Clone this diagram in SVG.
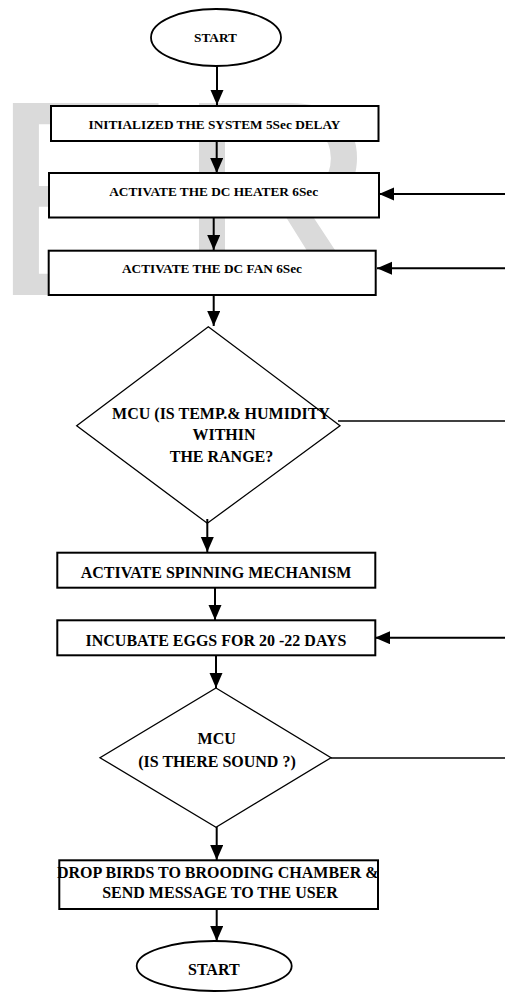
<svg xmlns="http://www.w3.org/2000/svg" width="505" height="992" viewBox="0 0 505 992">
<style>
.box{fill:#fff;stroke:#000;stroke-width:2}
.dia{fill:none;stroke:#000;stroke-width:1.3}
.t{font-family:"Liberation Serif","Times New Roman",serif;font-weight:bold;fill:#000;text-anchor:middle}
.s{font-size:13.3px}
.l{font-size:16px}
.c{stroke:#000;stroke-width:2;fill:none}
.thin{stroke:#000;stroke-width:1.3;fill:none}
</style>
<defs>
<marker id="ah" markerUnits="userSpaceOnUse" markerWidth="16" markerHeight="14" refX="15" refY="6.5" orient="auto">
<path d="M0,0 L15,6.5 L0,13 z" fill="#000"/>
</marker>
</defs>
<rect width="505" height="992" fill="#fff"/>
<text x="-10" y="295" font-family="Liberation Sans,Arial,sans-serif" font-size="279" fill="#dadada">ER</text>
<g id="start">
<ellipse cx="216" cy="37.5" rx="65" ry="28.5" fill="#fff" stroke="#000" stroke-width="1.8"/>
<text class="t s" x="215.5" y="42">START</text>
</g>
<g id="init">
<rect class="box" x="51" y="106" width="327.5" height="35"/>
<text class="t s" x="214.5" y="129">INITIALIZED THE SYSTEM 5Sec DELAY</text>
</g>
<g id="heater">
<rect class="box" x="49" y="173" width="330" height="44.5"/>
<text class="t s" x="213.7" y="196">ACTIVATE THE DC HEATER 6Sec</text>
</g>
<g id="fan">
<rect class="box" x="48.7" y="250.7" width="327" height="44.3"/>
<text class="t s" x="212" y="272.7">ACTIVATE THE DC FAN 6Sec</text>
</g>
<g id="check1">
<polygon class="dia" points="208.3,326.7 340,425.7 207.3,523.3 76.7,425.7"/>
<text class="t l" x="221" y="419">MCU (IS TEMP.&amp; HUMIDITY</text>
<text class="t l" x="224" y="440">WITHIN</text>
<text class="t l" x="221.5" y="461.7">THE RANGE?</text>
</g>
<g id="spin">
<rect class="box" x="57.3" y="552.7" width="318" height="35"/>
<text class="t l" x="216" y="578">ACTIVATE SPINNING MECHANISM</text>
</g>
<g id="incubate">
<rect class="box" x="57.3" y="620.3" width="318" height="35"/>
<text class="t l" x="216" y="646">INCUBATE EGGS FOR 20 -22 DAYS</text>
</g>
<g id="check2">
<polygon class="dia" points="216,688 331,757.7 216,827.3 100,757.7"/>
<text class="t l" x="216.7" y="744.3">MCU</text>
<text class="t l" x="217" y="766.7">(IS THERE SOUND ?)</text>
</g>
<g id="drop">
<rect class="box" x="59.3" y="860.3" width="318.7" height="48.7"/>
<text class="t l" x="217.8" y="877.7">DROP BIRDS TO BROODING CHAMBER &amp;</text>
<text class="t l" x="220" y="898.3">SEND MESSAGE TO THE USER</text>
</g>
<g id="end">
<ellipse cx="214.2" cy="966" rx="77.5" ry="25" fill="#fff" stroke="#000" stroke-width="1.8"/>
<text class="t l" x="213.8" y="975">START</text>
</g>
<g id="connectors">
<line class="c" x1="217" y1="66" x2="217" y2="105" marker-end="url(#ah)"/>
<line class="c" x1="216.7" y1="141" x2="216.7" y2="173" marker-end="url(#ah)"/>
<line class="c" x1="213.7" y1="218" x2="213.7" y2="250" marker-end="url(#ah)"/>
<line class="c" x1="213.7" y1="295" x2="213.7" y2="326" marker-end="url(#ah)"/>
<line class="c" x1="207.3" y1="519" x2="207.3" y2="552" marker-end="url(#ah)"/>
<line class="c" x1="215" y1="588" x2="215" y2="620" marker-end="url(#ah)"/>
<line class="c" x1="216" y1="655" x2="216" y2="688" marker-end="url(#ah)"/>
<line class="c" x1="216.7" y1="827" x2="216.7" y2="860" marker-end="url(#ah)"/>
<line class="c" x1="216.7" y1="909" x2="216.7" y2="941" marker-end="url(#ah)"/>
<line class="c" x1="505" y1="194" x2="379" y2="194" marker-end="url(#ah)"/>
<line class="c" x1="505" y1="268.3" x2="377" y2="268.3" marker-end="url(#ah)"/>
<line class="c" x1="505" y1="637.7" x2="375" y2="637.7" marker-end="url(#ah)"/>
<line class="thin" x1="338" y1="421" x2="505" y2="421"/>
<line class="thin" x1="331" y1="758" x2="505" y2="758"/>
</g>
</svg>
